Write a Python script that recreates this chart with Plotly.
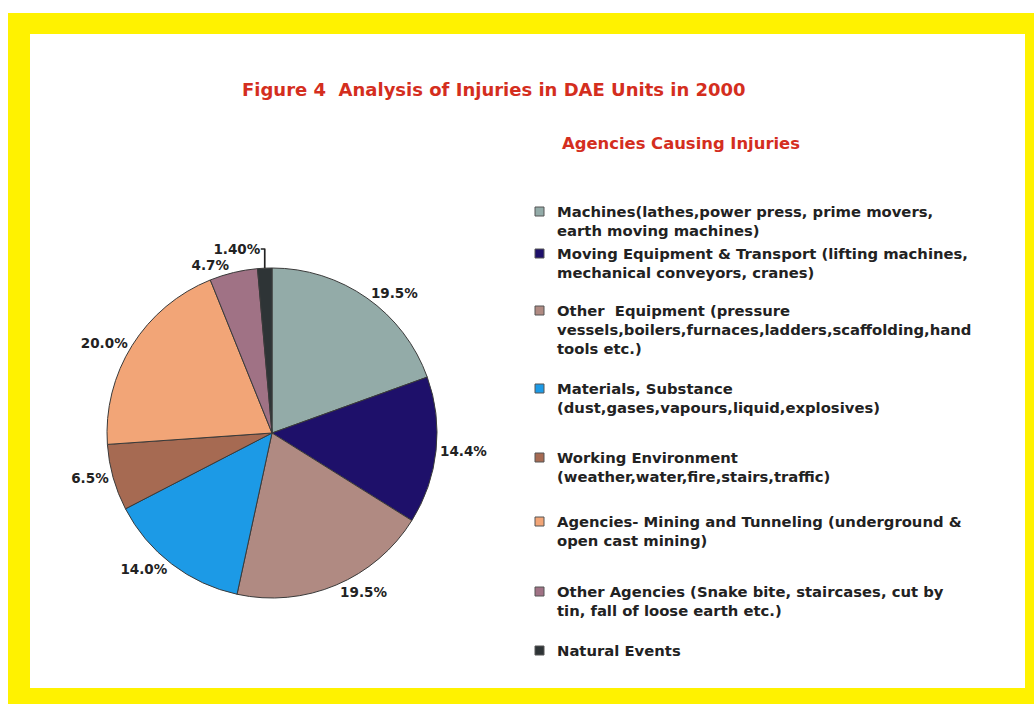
import plotly.graph_objects as go

# Agencies causing injuries (legend text, line breaks as printed)
agencies = [
    "Machines(lathes,power press, prime movers,<br>earth moving machines)",
    "Moving Equipment & Transport (lifting machines,<br>mechanical conveyors, cranes)",
    "Other  Equipment (pressure<br>vessels,boilers,furnaces,ladders,scaffolding,hand<br>tools etc.)",
    "Materials, Substance<br>(dust,gases,vapours,liquid,explosives)",
    "Working Environment<br>(weather,water,fire,stairs,traffic)",
    "Agencies- Mining and Tunneling (underground &<br>open cast mining)",
    "Other Agencies (Snake bite, staircases, cut by<br>tin, fall of loose earth etc.)",
    "Natural Events",
]
# Share of injuries, as printed on the slices
pct_labels = ["19.5%", "14.4%", "19.5%", "14.0%", "6.5%", "20.0%", "4.7%", "1.40%"]
shares = [float(s.rstrip("%")) for s in pct_labels]

colors = ["#93aba8", "#1e106a", "#b08a82", "#1c9ae6",
          "#a66a52", "#f2a577", "#a07285", "#2e3436"]

W, H = 1034, 704
FONT = "DejaVu Sans, Verdana, sans-serif"


def px(x):
    return x / W


def py(y):
    return 1 - y / H


fig = go.Figure()

cx, cy, r = 272, 433, 165
fig.add_trace(go.Pie(
    labels=[a.split("<br>")[0] for a in agencies],
    values=shares,
    text=pct_labels,
    textinfo="text",
    textposition="outside",
    textfont=dict(family=FONT, size=13.5, color="#222222", weight="bold"),
    marker=dict(colors=colors, line=dict(color="#3a3a3a", width=1)),
    sort=False,
    direction="clockwise",
    rotation=0,
    showlegend=False,
    hoverinfo="label+text",
    domain=dict(x=[px(cx - r), px(cx + r)], y=[py(cy + r), py(cy - r)]),
))

shapes = [
    # yellow frame with white inner panel
    dict(type="rect", xref="paper", yref="paper", x0=px(8), x1=px(1034),
         y0=py(704), y1=py(13), fillcolor="#fff200", line=dict(width=0), layer="below"),
    dict(type="rect", xref="paper", yref="paper", x0=px(30), x1=px(1025),
         y0=py(688), y1=py(34), fillcolor="#ffffff", line=dict(width=0), layer="below"),
]

annotations = [
    dict(text="Figure 4  Analysis of Injuries in DAE Units in 2000",
         x=px(494), y=py(90), xref="paper", yref="paper", showarrow=False,
         xanchor="center", yanchor="middle",
         font=dict(family=FONT, size=18, color="#d42e1e", weight="bold")),
    dict(text="Agencies Causing Injuries",
         x=px(560), y=py(143), xref="paper", yref="paper", showarrow=False,
         xanchor="left", yanchor="middle",
         font=dict(family=FONT, size=16.4, color="#d42e1e", weight="bold")),
]

# legend rows: top of the first text line of each entry
legend_tops = [201, 243, 300, 378, 447, 511, 581, 640]
for name, color, top in zip(agencies, colors, legend_tops):
    annotations.append(dict(
        text=name, x=px(555), y=py(top), xref="paper", yref="paper",
        showarrow=False, xanchor="left", yanchor="top", align="left",
        font=dict(family=FONT, size=14.8, color="#222222", weight="bold")))
    shapes.append(dict(
        type="rect", xref="paper", yref="paper",
        x0=px(535), x1=px(544), y0=py(top + 15), y1=py(top + 6),
        fillcolor=color, line=dict(color="#555555", width=1)))

fig.update_layout(
    width=W, height=H,
    margin=dict(l=0, r=0, t=0, b=0),
    paper_bgcolor="#ffffff",
    plot_bgcolor="#ffffff",
    shapes=shapes,
    annotations=annotations,
)

fig.write_html("out.html")
